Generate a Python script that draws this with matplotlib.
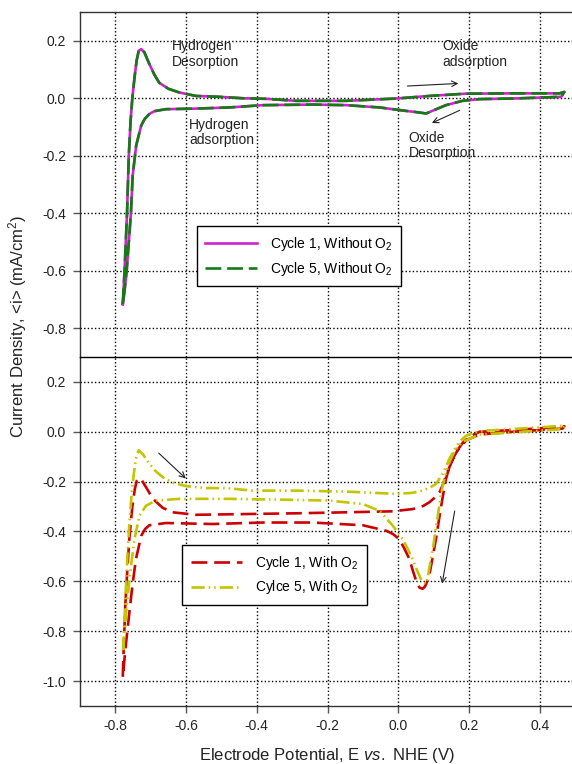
import matplotlib
matplotlib.use('Agg')
import matplotlib.pyplot as plt

plt.rcParams['font.family'] = ['Liberation Sans', 'DejaVu Sans']
plt.rcParams['mathtext.fontset'] = 'custom'
plt.rcParams['mathtext.rm'] = 'Liberation Sans'
plt.rcParams['mathtext.it'] = 'Liberation Sans:italic'
plt.rcParams['axes.unicode_minus'] = False

# --- data (E in V vs NHE, i in mA/cm2) ---
# no O2: one full cycle, anodic branch then cathodic branch
e_no_o2 = [-0.779, -0.774, -0.767, -0.762, -0.757, -0.752, -0.746, -0.740, -0.734, -0.727,
           -0.718, -0.706, -0.690, -0.676, -0.650, -0.619, -0.572, -0.506, -0.440, -0.374,
           -0.289, -0.147, -0.006, 0.088, 0.192, 0.324, 0.456, 0.470,
           0.461, 0.324, 0.230, 0.182, 0.135, 0.100, 0.079, 0.050, 0.022, -0.053,
           -0.147, -0.242, -0.383, -0.478, -0.572, -0.657, -0.690, -0.704, -0.717, -0.727,
           -0.741, -0.751, -0.756, -0.762, -0.768, -0.774, -0.779]
i_cycle1_no_o2 = [-0.716, -0.60, -0.40, -0.20, -0.08, 0.00, 0.07, 0.13, 0.165, 0.171,
                  0.160, 0.125, 0.083, 0.054, 0.033, 0.020, 0.008, 0.005, 0.000, -0.002,
                  -0.009, -0.009, -0.001, 0.008, 0.016, 0.017, 0.017, 0.022,
                  0.005, -0.001, -0.003, -0.009, -0.024, -0.042, -0.053, -0.048, -0.044, -0.032,
                  -0.024, -0.022, -0.024, -0.032, -0.036, -0.038, -0.045, -0.055, -0.072, -0.095,
                  -0.164, -0.268, -0.40, -0.50, -0.60, -0.67, -0.716]
i_cycle5_no_o2 = list(i_cycle1_no_o2)  # cycle 5 lies on top of cycle 1

# with O2, cycle 1
e_cycle1_o2 = [-0.779, -0.776, -0.772, -0.766, -0.760, -0.752, -0.745, -0.739, -0.734, -0.725,
               -0.710, -0.694, -0.666, -0.638, -0.572, -0.430, -0.289, -0.147, -0.015, 0.041,
               0.070, 0.088, 0.105, 0.117, 0.127, 0.135, 0.150, 0.164, 0.182, 0.201,
               0.230, 0.324, 0.465, 0.470,
               0.465, 0.324, 0.230, 0.192, 0.170, 0.154, 0.145, 0.135, 0.126, 0.117,
               0.108, 0.098, 0.090, 0.084, 0.076, 0.069, 0.060, 0.051, 0.042, 0.032,
               0.018, 0.003, -0.015, -0.034, -0.100, -0.242, -0.384, -0.525, -0.657, -0.704,
               -0.716, -0.727, -0.742, -0.752, -0.760, -0.770, -0.779]
i_cycle1_o2 = [-0.983, -0.85, -0.70, -0.55, -0.42, -0.30, -0.23, -0.195, -0.186, -0.195,
               -0.23, -0.269, -0.305, -0.323, -0.333, -0.330, -0.327, -0.323, -0.319, -0.310,
               -0.298, -0.283, -0.262, -0.242, -0.21, -0.175, -0.125, -0.081, -0.045, -0.020,
               0.0, 0.007, 0.020, 0.022,
               0.013, 0.0, -0.011, -0.034, -0.07, -0.108, -0.14, -0.189, -0.26, -0.337,
               -0.42, -0.498, -0.56, -0.593, -0.62, -0.630, -0.625, -0.599, -0.56, -0.512,
               -0.47, -0.431, -0.41, -0.397, -0.375, -0.364, -0.364, -0.370, -0.366, -0.375,
               -0.39, -0.418, -0.512, -0.62, -0.72, -0.85, -0.983]

# with O2, cycle 5
e_cycle5_o2 = [-0.778, -0.775, -0.771, -0.766, -0.760, -0.754, -0.748, -0.742, -0.734, -0.722,
               -0.704, -0.686, -0.666, -0.640, -0.600, -0.540, -0.487, -0.412, -0.289, -0.147,
               -0.006, 0.040, 0.069, 0.092, 0.107, 0.126, 0.145, 0.160, 0.173, 0.190,
               0.211, 0.250, 0.324, 0.465, 0.470,
               0.465, 0.324, 0.230, 0.182, 0.160, 0.145, 0.135, 0.126, 0.119, 0.112,
               0.105, 0.098, 0.090, 0.084, 0.079, 0.072, 0.065, 0.053, 0.041, 0.027,
               0.013, -0.015, -0.053, -0.100, -0.195, -0.336, -0.478, -0.619, -0.685, -0.713,
               -0.732, -0.746, -0.755, -0.762, -0.768, -0.773, -0.778]
i_cycle5_o2 = [-0.876, -0.78, -0.65, -0.50, -0.36, -0.25, -0.17, -0.11, -0.074, -0.090,
               -0.128, -0.158, -0.182, -0.203, -0.218, -0.226, -0.226, -0.236, -0.236, -0.240,
               -0.249, -0.245, -0.236, -0.222, -0.209, -0.168, -0.108, -0.07, -0.040, -0.018,
               -0.004, 0.005, 0.011, 0.024, 0.026,
               0.011, -0.003, -0.011, -0.040, -0.075, -0.121, -0.165, -0.215, -0.27, -0.337,
               -0.40, -0.471, -0.53, -0.579, -0.610, -0.605, -0.593, -0.555, -0.512, -0.47,
               -0.431, -0.377, -0.317, -0.290, -0.276, -0.272, -0.269, -0.269, -0.276, -0.296,
               -0.337, -0.431, -0.53, -0.62, -0.70, -0.79, -0.876]

x_ticks = [-0.8, -0.6, -0.4, -0.2, 0.0, 0.2, 0.4]
y_ticks_top = [0.2, 0.0, -0.2, -0.4, -0.6, -0.8]
y_ticks_bottom = [0.2, 0.0, -0.2, -0.4, -0.6, -0.8, -1.0]

fig = plt.figure(figsize=(5.72, 7.64), dpi=100)
W, H = 572, 764
left, right = 80, 575
ax_top = fig.add_axes([left / W, 1 - 357 / H, (right - left) / W, 345 / H])
ax_bot = fig.add_axes([left / W, 1 - 706 / H, (right - left) / W, 349 / H])

grid_style = dict(color='black', linestyle=(0, (1, 1.6)), linewidth=1.0)
for ax, yt, ylim in [(ax_top, y_ticks_top, (-0.9, 0.3)), (ax_bot, y_ticks_bottom, (-1.1, 0.3))]:
    ax.set_xlim(-0.9, 0.5)
    ax.set_ylim(*ylim)
    ax.set_xticks(x_ticks)
    ax.set_yticks(yt)
    ax.set_yticklabels([f"{v:.1f}" for v in yt])
    ax.grid(True, **grid_style)
    ax.set_axisbelow(True)
    ax.spines['right'].set_visible(False)
    for s in ax.spines.values():
        s.set_color('#333333')
        s.set_linewidth(1.0)
    ax.tick_params(axis='y', direction='out', length=5, width=1.0, color='#555555',
                   labelsize=10, labelcolor='#222222', pad=5)

# the line between the panels is the top spine of the lower axes
ax_top.tick_params(axis='x', bottom=False, labelbottom=False)
ax_top.spines['bottom'].set_visible(False)
ax_bot.spines['top'].set_color('black')
ax_bot.tick_params(axis='x', direction='out', length=5, width=1.0, color='#555555',
                   labelsize=10, labelcolor='#222222', pad=4.5)
ax_bot.set_xticklabels([f"{v:.1f}" for v in x_ticks])

# top panel: without O2
ax_top.plot(e_no_o2, i_cycle1_no_o2, color='#d21fd2', lw=1.9, solid_joinstyle='round',
            label='Cycle 1, Without O$_2$')
ax_top.plot(e_no_o2, i_cycle5_no_o2, color='#147a14', lw=1.9, dashes=(6, 2.2),
            label='Cycle 5, Without O$_2$')

# bottom panel: with O2
ax_bot.plot(e_cycle1_o2, i_cycle1_o2, color='#cc0000', lw=1.9, dashes=(6, 2.6),
            label='Cycle 1, With O$_2$')
ax_bot.plot(e_cycle5_o2, i_cycle5_o2, color='#c4c400', lw=1.9,
            dashes=(5, 1.5, 0.6, 1.5, 0.6, 1.5), label='Cylce 5, With O$_2$')

txt = dict(fontsize=10, color='#222222', va='top', ha='left', linespacing=1.15)
ax_top.text(-0.639, 0.205, 'Hydrogen\nDesorption', **txt)
ax_top.text(0.126, 0.205, 'Oxide\nadsorption', **txt)
ax_top.text(-0.591, -0.068, 'Hydrogen\nadsorption', **txt)
ax_top.text(0.030, -0.113, 'Oxide\nDesorption', **txt)

arrow = dict(arrowstyle='->', color='#222222', lw=0.8, mutation_scale=10)
ax_top.annotate('', xy=(0.178, 0.052), xytext=(0.018, 0.042), arrowprops=arrow)
ax_top.annotate('', xy=(0.088, -0.090), xytext=(0.181, -0.038), arrowprops=arrow)
ax_bot.annotate('', xy=(-0.595, -0.195), xytext=(-0.683, -0.078), arrowprops=arrow)
ax_bot.annotate('', xy=(0.123, -0.620), xytext=(0.161, -0.307), arrowprops=arrow)

leg_kw = dict(loc='lower left', fontsize=10, fancybox=False, framealpha=1, borderaxespad=0,
              handlelength=3.7, handletextpad=0.95, borderpad=0.6, labelspacing=0.5)
leg = ax_top.legend(bbox_to_anchor=(0.236, 0.206), **leg_kw)
leg.get_frame().set_edgecolor('black')
leg.get_frame().set_linewidth(1.0)
leg2 = ax_bot.legend(bbox_to_anchor=(0.207, 0.290), **leg_kw)
leg2.get_frame().set_edgecolor('black')
leg2.get_frame().set_linewidth(1.0)

ax_bot.set_xlabel('Electrode Potential, E $\\mathit{vs.}$ NHE (V)', fontsize=12,
                  color='#222222', labelpad=9)
fig.text(18 / W, 1 - 326 / H, 'Current Density, <i> (mA/cm$^2$)', rotation=90,
         fontsize=12, color='#222222', ha='center', va='center')

fig.savefig('out.png', dpi=100)
